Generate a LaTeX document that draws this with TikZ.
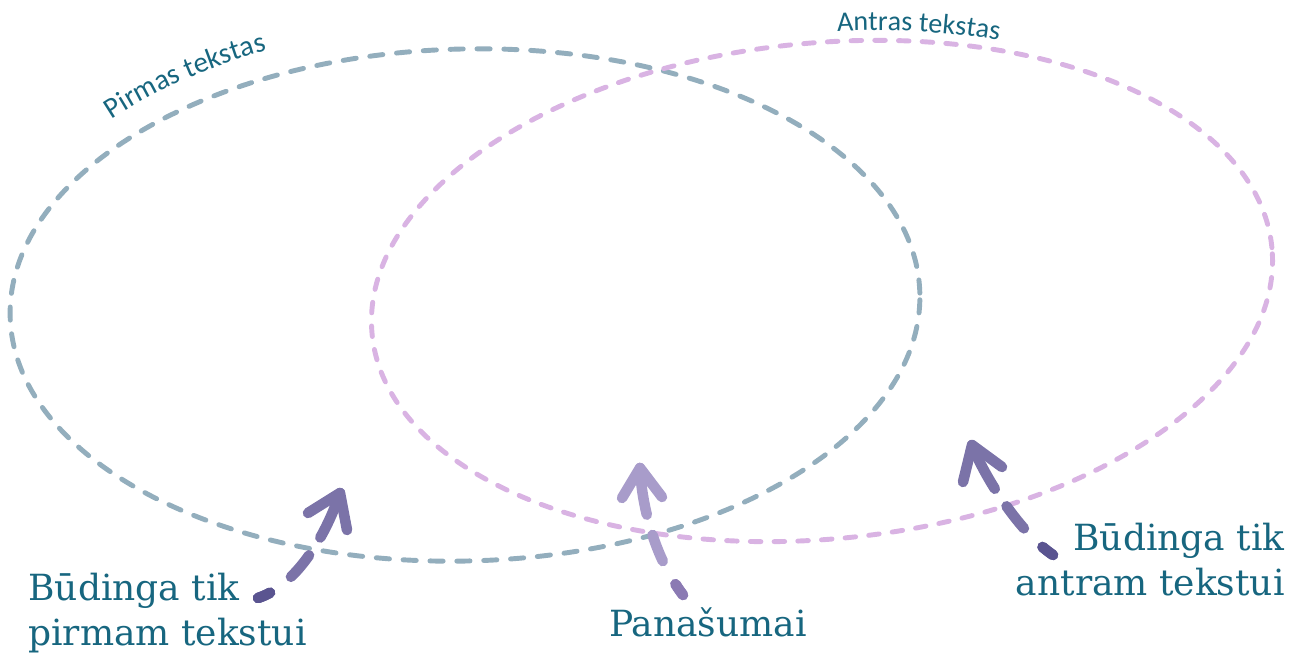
\documentclass[tikz,border=0pt]{standalone}
\usepackage{fontspec}
\newfontfamily\labelfont{DejaVu Serif}
\newfontfamily\smallfont{Carlito}
\usetikzlibrary{decorations.text}
\definecolor{ellA}{HTML}{93AEBD}
\definecolor{ellB}{HTML}{D9B3E3}
\definecolor{txt}{HTML}{17667F}
\definecolor{arrA}{HTML}{7B73A8}
\definecolor{arrAd}{HTML}{5A5490}
\definecolor{arrM}{HTML}{A89CCA}
\definecolor{arrMd}{HTML}{8B7AB3}
\tikzset{
  elllineA/.style={line width=2.8pt, dash pattern=on 7.5pt off 7.8pt, line cap=round},
  elllineB/.style={line width=2.8pt, dash pattern=on 6pt off 7.5pt, line cap=round},
  shaft/.style={line width=6pt, line cap=round, line join=round, dash pattern=on 7.5pt off 15pt on 16pt off 12pt on 200pt},
  shaftdark/.style={line width=6pt, line cap=round, dash pattern=on 7.5pt off 400pt},
  head/.style={line width=6pt, line cap=round, line join=round},
  biglabel/.style={font=\labelfont\fontsize{20.5}{26}\selectfont, text=txt, inner sep=0pt},
}
\begin{document}
\begin{tikzpicture}[x=0.02cm, y=0.02cm]
\useasboundingbox (0,0) rectangle (1301,658);
% ellipses
\draw[elllineA, ellA, rotate around={1.5:(465,353)}] (465,353) ellipse [x radius=455, y radius=256];
\draw[elllineB, ellB, rotate around={5.5:(822,367)}] (822,367) ellipse [x radius=452, y radius=248];
% curved titles
\path[rotate around={1.5:(465,353)}, decorate, decoration={text along path, text align=left,
  text={|\smallfont\fontsize{16.5}{18}\selectfont\color{txt}|Pirmas tekstas}}]
  (465,353) ++(136.5:480 and 283) arc[start angle=136.5, end angle=95, x radius=480, y radius=283];
\path[rotate around={5.5:(822,367)}, decorate, decoration={text along path, text align=left,
  text={|\smallfont\fontsize{16}{18}\selectfont\color{txt}|Antras tekstas}}]
  (822,367) ++(85:462 and 258) arc[start angle=85, end angle=50, x radius=462, y radius=258];
% labels
\node[biglabel, anchor=base west, align=left] (l1) at (28,12) {Būdinga tik\\pirmam tekstui};
\node[biglabel, anchor=base] (l2) at (708,21) {Panašumai};
\node[biglabel, anchor=base east, align=right] (l3) at (1285,62) {Būdinga tik\\antram tekstui};
% arrow coordinates
\coordinate (t1) at (258,60);  \coordinate (h1) at (340,165);
\coordinate (t2) at (683,63);  \coordinate (h2) at (640,190);
\coordinate (t3) at (1053,103); \coordinate (h3) at (972,213);
% left arrow
\draw[shaft, arrA] (t1) .. controls (295,72) and (325,120) .. (h1);
\draw[shaftdark, arrAd] (t1) .. controls (295,72) and (325,120) .. (h1);
\draw[head, arrA] (308,145) -- (h1) -- (347,128);
% middle arrow
\draw[shaft, arrM] (t2) .. controls (655,100) and (642,150) .. (h2);
\draw[shaftdark, arrMd] (t2) .. controls (655,100) and (642,150) .. (h2);
\draw[head, arrM] (622,160) -- (h2) -- (662,161);
% right arrow
\draw[shaft, arrA] (t3) .. controls (1020,125) and (985,180) .. (h3);
\draw[shaftdark, arrAd] (t3) .. controls (1020,125) and (985,180) .. (h3);
\draw[head, arrA] (963,176) -- (h3) -- (1002,191);
\end{tikzpicture}
\end{document}
